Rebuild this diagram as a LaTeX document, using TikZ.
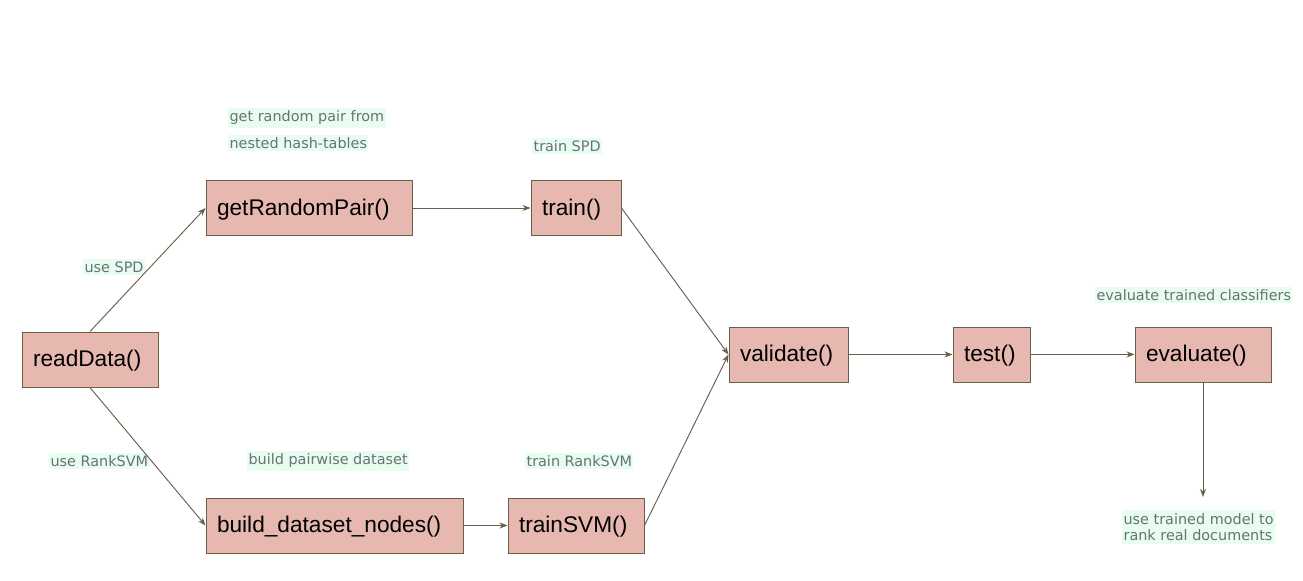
\documentclass[tikz,border=0pt]{standalone}
\usepackage{fontspec}
\setmainfont{Liberation Sans}
\newfontfamily\lblfont{DejaVu Sans}
\usetikzlibrary{arrows.meta}
\definecolor{boxfill}{HTML}{E6B8AF}
\definecolor{boxline}{HTML}{6B5E4A}
\definecolor{lbltext}{HTML}{687277}
\definecolor{lblbg}{HTML}{E8FDF0}
\tikzset{
  box/.style={draw=boxline, line width=0.75pt, fill=boxfill, minimum height=41.25pt,
    inner xsep=8.25pt, align=left, font=\fontsize{17}{20}\selectfont, text=black,
    text height=14pt, text depth=3pt},
  lbl/.style={fill=lblbg, text=lbltext, inner xsep=1pt, inner ysep=2pt, anchor=west,
    font=\lblfont\fontsize{10.8}{13.5}\selectfont, align=left},
  conn/.style={draw=boxline, line width=0.7pt, -{Stealth[length=6pt,width=4.5pt]}}
}
\begin{document}
\begin{tikzpicture}[x=0.75pt,y=-0.75pt]
\useasboundingbox (0,0) rectangle (1303,581);
% nodes
\node[box, text width=85.5pt] (read) at (90,359.5) {readData()};
\node[box, text width=138pt] (grp) at (309,208) {getRandomPair()};
\node[box, text width=51pt] (train) at (576,208) {train()};
\node[box, text width=176.25pt] (build) at (334.5,525.5) {build\_dataset\_nodes()};
\node[box, text width=85.5pt] (tsvm) at (576,525.5) {trainSVM()};
\node[box, text width=72.75pt] (valid) at (788.5,354.5) {validate()};
\node[box, text width=41.25pt] (test) at (991.5,354.5) {test()};
\node[box, text width=85.5pt] (eval) at (1203,354.5) {evaluate()};
\coordinate (end) at (1203,497);
% labels
\node[lbl] (l1) at (228,118) {get random pair from};
\node[lbl] (l2) at (228,143) {nested hash-tables};
\node[lbl] (l3) at (532,146) {train SPD};
\node[lbl] (l4) at (83,267) {use SPD};
\node[lbl] (l5) at (49,461) {use RankSVM};
\node[lbl] (l6) at (247,461) {build pairwise dataset};
\node[lbl] (l7) at (525,461) {train RankSVM};
\node[lbl] (l8) at (1095,295) {evaluate trained classifiers};
\node[lbl, font=\lblfont\fontsize{10.8}{12.5}\selectfont] (l9) at (1122,527) {use trained model to\\rank real documents};
% connectors
\draw[conn] (read.north) -- (grp.west);
\draw[conn] (read.south) -- (build.west);
\draw[conn] (grp.east) -- (train.west);
\draw[conn] (build.east) -- (tsvm.west);
\draw[conn] (train.east) -- (valid.west);
\draw[conn] (tsvm.east) -- (valid.west);
\draw[conn] (valid.east) -- (test.west);
\draw[conn] (test.east) -- (eval.west);
\draw[conn] (eval.south) -- (end);
\end{tikzpicture}
\end{document}
